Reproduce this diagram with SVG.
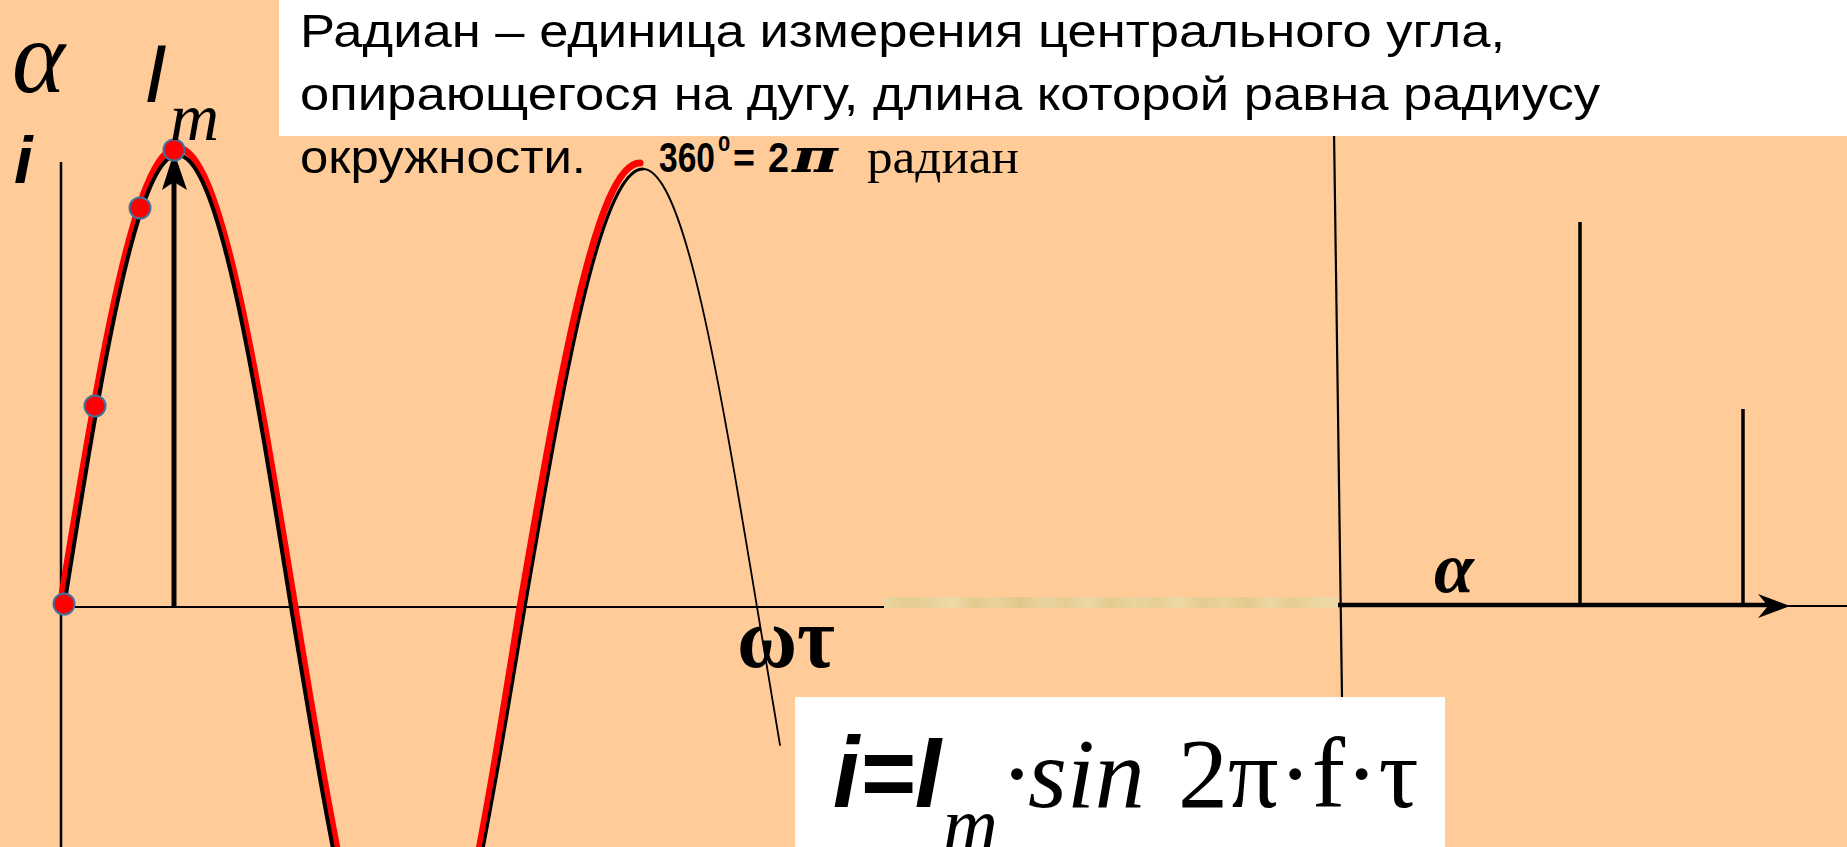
<svg xmlns="http://www.w3.org/2000/svg" width="1847" height="847" viewBox="0 0 1847 847">
<style>
.sans{font-family:"Liberation Sans",Arial,sans-serif;}
.serif{font-family:"Liberation Serif","Times New Roman",serif;}
.ax{stroke:#000;fill:none;}
.red{stroke:#FF0000;fill:none;stroke-linecap:round;}
.blk{stroke:#000;fill:none;stroke-linecap:round;}
.dot{fill:#FF0000;stroke:#41719C;stroke-width:2;}
</style>
<defs>
<linearGradient id="strip" x1="0" y1="0" x2="1" y2="0">
<stop offset="0" stop-color="#EBD6A2"/>
<stop offset="0.05" stop-color="#E4CC93"/>
<stop offset="0.1" stop-color="#E8D19B"/>
<stop offset="0.15" stop-color="#EED9A8"/>
<stop offset="0.2" stop-color="#E3CA8F"/>
<stop offset="0.25" stop-color="#E9D29D"/>
<stop offset="0.3" stop-color="#E0C688"/>
<stop offset="0.35" stop-color="#E9D39E"/>
<stop offset="0.4" stop-color="#E5CD94"/>
<stop offset="0.45" stop-color="#ECD6A3"/>
<stop offset="0.5" stop-color="#E3CA8F"/>
<stop offset="0.55" stop-color="#EAD49F"/>
<stop offset="0.6" stop-color="#E6CE96"/>
<stop offset="0.65" stop-color="#EDD8A6"/>
<stop offset="0.7" stop-color="#E4CB91"/>
<stop offset="0.75" stop-color="#E9D29C"/>
<stop offset="0.8" stop-color="#E2C98D"/>
<stop offset="0.85" stop-color="#ECD6A3"/>
<stop offset="0.9" stop-color="#E5CC93"/>
<stop offset="0.95" stop-color="#EBD5A1"/>
<stop offset="1" stop-color="#EED9A8"/>
</linearGradient>
</defs>
<rect id="background" x="0" y="0" width="1847" height="847" fill="#FFCC99"/>

<g id="connectors">
<line class="ax" x1="61" y1="162" x2="61" y2="847" stroke-width="2.5"/>
<line class="ax" x1="61" y1="607" x2="884" y2="607" stroke-width="2.2"/>
<rect x="884" y="597" width="454" height="11" fill="url(#strip)"/>
<line class="ax" x1="1334" y1="130" x2="1342" y2="697" stroke-width="2.2"/>
<line class="ax" x1="1338" y1="605" x2="1772" y2="605" stroke-width="4.5"/>
<polygon points="1790,606 1758,594 1768,606 1758,618" fill="#000"/>
<line class="ax" x1="1788" y1="606" x2="1847" y2="606" stroke-width="2"/>
<line class="ax" x1="1580" y1="222" x2="1580" y2="606" stroke-width="3.5"/>
<line class="ax" x1="1743" y1="409" x2="1743" y2="606" stroke-width="3.5"/>
<line class="ax" x1="174" y1="607" x2="174" y2="175" stroke-width="5"/>
<polygon points="174,152 162,190 174,182 187,190" fill="#000"/>
<path class="red" stroke-width="7" d="M 60 607 C 98.5 372 134.8 148 177.5 148 C 220.2 148 256.5 372 295 607 C 333.2 838.6 369.7 1059 412 1059"/>
<path class="red" stroke-width="7" d="M 406.5 1059 C 447.6 1059 483 838.6 520 607 C 559.1 380 596.6 163 640 163"/>
<path class="blk" stroke-width="4" d="M 64 607 C 101 375.4 136.4 155 177.5 155 C 218.6 155 254 375.4 291 607 C 329.2 838.6 365.7 1059 408 1059"/>
<path class="blk" stroke-width="3.2" d="M 408 1059 C 450.3 1059 486.8 838.6 525 607 C 563.5 382.6 600.3 169 643 169"/>
<path class="blk" stroke-width="1.8" d="M 643 169 C 684.3 169 719.8 382.6 757 607 L 780 745"/>
</g>

<g id="points">
<circle class="dot" cx="64" cy="604" r="10.5"/>
<circle class="dot" cx="95" cy="406" r="10.5"/>
<circle class="dot" cx="140" cy="208" r="10.5"/>
<circle class="dot" cx="174" cy="150" r="10.5"/>
</g>

<g id="title-box">
<rect x="279" y="0" width="1568" height="136" fill="#FFFFFF"/>
<text class="sans" x="300" y="47" font-size="47" textLength="1205" lengthAdjust="spacingAndGlyphs">Радиан – единица измерения центрального угла,</text>
<text class="sans" x="300" y="110" font-size="47" textLength="1300" lengthAdjust="spacingAndGlyphs">опирающегося на дугу, длина которой равна радиусу</text>
<text class="sans" x="300" y="173" font-size="47" textLength="286" lengthAdjust="spacingAndGlyphs">окружности.</text>
<text class="sans" x="659" y="172" font-size="43" font-weight="bold" textLength="56" lengthAdjust="spacingAndGlyphs">360</text>
<text class="sans" x="718" y="151" font-size="22" font-weight="bold">0</text>
<text class="sans" x="733" y="172" font-size="40" font-weight="bold" textLength="22" lengthAdjust="spacingAndGlyphs">=</text>
<text class="sans" x="768" y="172" font-size="43" font-weight="bold" textLength="21" lengthAdjust="spacingAndGlyphs">2</text>
<text x="792" y="172" font-size="46" font-weight="bold" font-style="italic" font-family="'DejaVu Serif','Liberation Serif',serif" textLength="46" lengthAdjust="spacingAndGlyphs">π</text>
<text class="serif" x="867" y="173" font-size="48" textLength="152" lengthAdjust="spacingAndGlyphs">радиан</text>
</g>

<g id="labels">
<text class="serif" x="12" y="92" font-size="104" font-style="italic" textLength="53" lengthAdjust="spacingAndGlyphs">α</text>
<text class="sans" x="14" y="183" font-size="67" font-weight="bold" font-style="italic">i</text>
<text class="sans" x="144" y="102" font-size="82" font-style="italic">I</text>
<text class="serif" x="170" y="140" font-size="68" font-style="italic">m</text>
<text class="serif" x="737" y="667" font-size="86" font-weight="bold" textLength="98" lengthAdjust="spacingAndGlyphs">ωτ</text>
<text class="serif" x="1434" y="592" font-size="72" font-weight="bold" font-style="italic">α</text>
</g>

<g id="formula">
<rect x="795" y="697" width="650" height="150" fill="#FFFFFF"/>
<text class="sans" x="833" y="807" font-size="100" font-weight="bold" font-style="italic" textLength="108" lengthAdjust="spacingAndGlyphs">i=I</text>
<text class="serif" x="943" y="850" font-size="76" font-style="italic">m</text>
<text class="serif" x="1003" y="807" font-size="100" font-style="italic">·sin</text>
<text class="serif" x="1178" y="807" font-size="100">2π·f·τ</text>
</g>
</svg>
